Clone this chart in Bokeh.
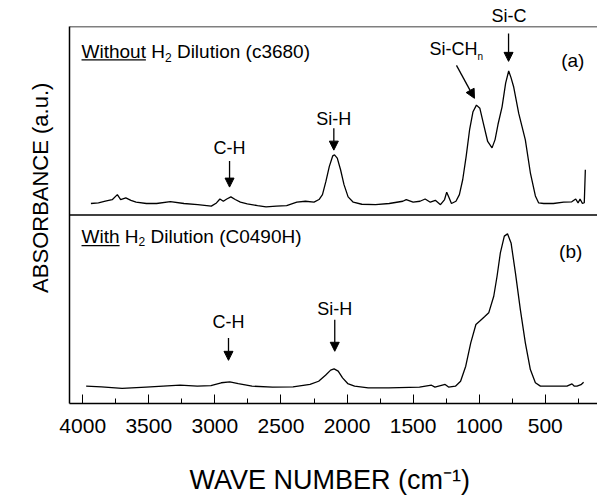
import math
from bokeh.plotting import figure
from bokeh.models import (Range1d, SingleIntervalTicker, FixedTicker, Span, Label,
                          Arrow, NormalHead, ColumnDataSource, Title)
from bokeh.embed import file_html
from bokeh.resources import INLINE

# ---------------- data ----------------
# (a) Without H2 dilution (c3680)
wn_a = [3938, 3881, 3829, 3777, 3738, 3713, 3674, 3635, 3596, 3518, 3441, 3337,
        3234, 3130, 3027, 2988, 2962, 2936, 2910, 2879, 2846, 2807, 2755, 2677,
        2613, 2535, 2457, 2380, 2315, 2250, 2212, 2186, 2160, 2134, 2108, 2095,
        2074, 2049, 2023, 1992, 1953, 1888, 1785, 1681, 1578, 1552, 1500, 1448,
        1409, 1370, 1332, 1293, 1262, 1246, 1228, 1210, 1176, 1150, 1125, 1099,
        1073, 1047, 1021, 995, 969, 936, 903, 880, 858, 827, 800, 777, 760, 739,
        701, 676, 651, 613, 575, 550, 512, 439, 361, 300, 270, 252, 237, 219, 205,
        197]
abs_a = [0.061, 0.064, 0.073, 0.081, 0.108, 0.082, 0.091, 0.078, 0.068, 0.061,
         0.061, 0.071, 0.061, 0.055, 0.047, 0.064, 0.085, 0.073, 0.085, 0.096,
         0.082, 0.068, 0.059, 0.050, 0.043, 0.047, 0.050, 0.068, 0.073, 0.068,
         0.082, 0.108, 0.178, 0.258, 0.314, 0.319, 0.302, 0.240, 0.161, 0.096,
         0.068, 0.057, 0.055, 0.061, 0.073, 0.082, 0.068, 0.073, 0.085, 0.068,
         0.078, 0.055, 0.082, 0.121, 0.091, 0.061, 0.073, 0.108, 0.187, 0.310,
         0.451, 0.548, 0.583, 0.566, 0.487, 0.390, 0.356, 0.400, 0.480, 0.574,
         0.700, 0.764, 0.730, 0.679, 0.539, 0.469, 0.399, 0.224, 0.101, 0.064,
         0.061, 0.061, 0.068, 0.070, 0.085, 0.064, 0.085, 0.061, 0.065, 0.240]

# (b) With H2 dilution (C0490H)
wn_b = [3974, 3858, 3702, 3521, 3263, 3133, 3030, 2952, 2887, 2823, 2719, 2564,
        2409, 2280, 2215, 2163, 2124, 2098, 2067, 2034, 1995, 1943, 1840, 1684,
        1452, 1361, 1335, 1258, 1232, 1180, 1141, 1102, 1064, 1025, 991, 960, 928,
        890, 865, 840, 810, 786, 759, 726, 689, 651, 613, 575, 537, 336, 298, 280,
        260, 230, 210]
abs_b = [0.092, 0.088, 0.080, 0.087, 0.097, 0.092, 0.095, 0.110, 0.115, 0.106,
         0.092, 0.087, 0.088, 0.101, 0.118, 0.150, 0.177, 0.184, 0.172, 0.136,
         0.106, 0.092, 0.083, 0.083, 0.087, 0.097, 0.087, 0.101, 0.087, 0.092,
         0.118, 0.198, 0.322, 0.419, 0.440, 0.460, 0.481, 0.569, 0.675, 0.799,
         0.888, 0.900, 0.852, 0.693, 0.499, 0.322, 0.180, 0.110, 0.092, 0.092,
         0.104, 0.092, 0.092, 0.100, 0.113]

tick_interval = 500
panel_offset = 1.0   # panel (a) is stacked above panel (b)

FONT = "Liberation Sans"

p = figure(width=597, height=497, output_backend="svg", toolbar_location=None,
           x_range=Range1d(4100, 105), y_range=Range1d(0, 2),
           min_border_left=69, min_border_right=0, min_border_top=26,
           min_border_bottom=93)
p.outline_line_color = None
p.grid.visible = False
p.background_fill_color = "white"
p.border_fill_color = "white"

src_a = ColumnDataSource(dict(x=wn_a, y=[v + panel_offset for v in abs_a]))
src_b = ColumnDataSource(dict(x=wn_b, y=abs_b))
p.line("x", "y", source=src_a, line_color="black", line_width=1.3)
p.line("x", "y", source=src_b, line_color="black", line_width=1.3)

# frame lines
p.add_layout(Span(location=2, dimension="width", line_color="black", line_width=1.5))
p.add_layout(Span(location=1, dimension="width", line_color="black", line_width=1.5))

# x axis
xa = p.xaxis[0]
xa.ticker = SingleIntervalTicker(interval=tick_interval, num_minor_ticks=2)
xa.major_tick_in = 9
xa.major_tick_out = 0
xa.minor_tick_in = 5
xa.minor_tick_out = 0
xa.axis_line_width = 1.5
xa.axis_line_color = "black"
xa.major_tick_line_color = "black"
xa.minor_tick_line_color = "black"
xa.major_label_text_font = FONT
xa.major_label_text_font_size = "21px"
xa.major_label_text_color = "black"
xa.major_label_standoff = 15
xa.axis_label = "WAVE NUMBER  (cm\u207b\u00b9)"
xa.axis_label_text_font = FONT
xa.axis_label_text_font_size = "27px"
xa.axis_label_text_font_style = "normal"
xa.axis_label_text_color = "black"
xa.axis_label_standoff = 29

# y axis: only the line (an invisible outward tick reserves some room)
ya = p.yaxis[0]
ya.ticker = FixedTicker(ticks=[])
ya.major_tick_in = 0
ya.major_tick_out = 12
ya.major_tick_line_color = None
ya.minor_tick_in = 0
ya.minor_tick_out = 0
ya.axis_line_width = 1.5
ya.axis_line_color = "black"

# y-axis title (a side title so it can sit off-centre like the original)
p.add_layout(Title(text="ABSORBANCE  (a.u.)", align="right", offset=50,
                   vertical_align="top", standoff=29, text_font=FONT,
                   text_font_size="22px", text_font_style="normal",
                   text_color="black"), "left")

# "Si-C" label sits above the frame
p.add_layout(Title(text="Si-C", align="left", offset=422, vertical_align="bottom",
                   standoff=2, text_font=FONT, text_font_size="18px",
                   text_font_style="normal", text_color="black"), "above")


def lbl(text, x, y, size, align="left", xoff=0):
    p.add_layout(Label(x=x, y=y, x_offset=xoff, text=text, text_font=FONT,
                       text_font_size=f"{size}px", text_color="black",
                       text_align=align, text_baseline="middle"))


def arrow(x0, y0, x1, y1):
    p.add_layout(Arrow(x_start=x0, y_start=y0, x_end=x1, y_end=y1,
                       line_color="black", line_width=1.3,
                       end=NormalHead(size=9, fill_color="black",
                                      line_color="black", line_width=1)))


# panel titles
FS = 19
lbl("Without", 4009, 1.865, FS)
lbl("H", 4009, 1.865, FS, xoff=69.7)
lbl("2", 4009, 1.836, 12, xoff=83.4)
lbl("Dilution (c3680)", 4009, 1.865, FS, xoff=95.4)
p.segment(x0=[4009], y0=[1.823], x1=[3522], y1=[1.823], line_color="black", line_width=1.2)

lbl("With", 4009, 0.885, FS)
lbl("H", 4009, 0.885, FS, xoff=43.3)
lbl("2", 4009, 0.857, 12, xoff=57.0)
lbl("Dilution (C0490H)", 4009, 0.885, FS, xoff=69.0)
p.segment(x0=[4009], y0=[0.838], x1=[3721], y1=[0.838], line_color="black", line_width=1.2)

lbl("(a)", 204, 1.817, 19, align="right")
lbl("(b)", 220, 0.807, 19, align="right")

# peak labels and arrows
PS = 18
arrow(778, 1.963, 778, 1.815)                 # Si-C
lbl("Si-CH", 1376, 1.878, PS)
lbl("n", 1376, 1.841, 10, xoff=48.0)
arrow(1172, 1.794, 1036, 1.619)               # Si-CHn
lbl("Si-H", 2100, 1.511, PS, align="center")
arrow(2100, 1.460, 2100, 1.344)
lbl("C-H", 2889, 1.357, PS, align="center")
arrow(2889, 1.286, 2889, 1.148)

lbl("Si-H", 2093, 0.503, PS, align="center")
arrow(2093, 0.444, 2093, 0.277)
lbl("C-H", 2897, 0.431, PS, align="center")
arrow(2897, 0.348, 2897, 0.229)

open("out.html", "w").write(file_html(p, INLINE))
